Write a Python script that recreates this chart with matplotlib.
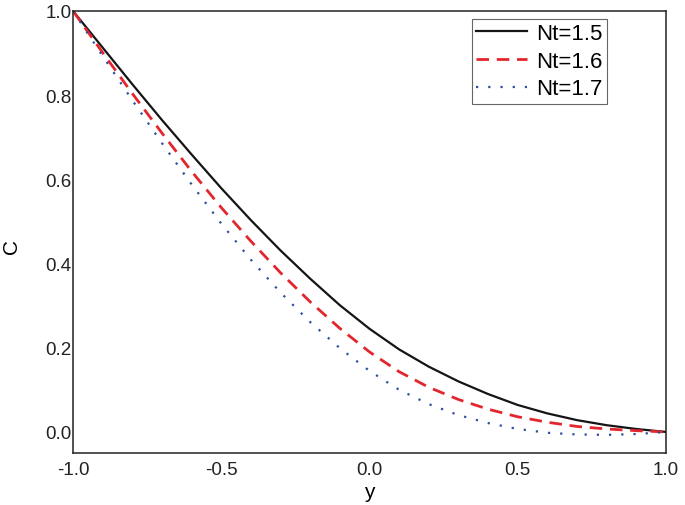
import numpy as np
import matplotlib
matplotlib.use("Agg")
import matplotlib.pyplot as plt

plt.rcParams['font.family'] = ['Liberation Sans', 'DejaVu Sans']

y_vals = [-1.0, -0.9, -0.8, -0.7, -0.6, -0.5, -0.4, -0.3, -0.2, -0.1, 0.0,
          0.1, 0.2, 0.3, 0.4, 0.5, 0.6, 0.7, 0.8, 0.9, 1.0]

c_nt15 = [1.0, 0.913, 0.826, 0.741, 0.659, 0.579, 0.503, 0.431, 0.364, 0.301, 0.245,
          0.196, 0.155, 0.120, 0.090, 0.064, 0.044, 0.028, 0.016, 0.007, 0.0]
c_nt16 = [1.0, 0.901, 0.804, 0.710, 0.619, 0.533, 0.453, 0.378, 0.309, 0.246, 0.190,
          0.143, 0.106, 0.077, 0.054, 0.036, 0.023, 0.013, 0.007, 0.003, 0.0]
c_nt17 = [1.0, 0.893, 0.788, 0.686, 0.588, 0.495, 0.409, 0.331, 0.261, 0.199, 0.145,
          0.100, 0.066, 0.040, 0.021, 0.007, -0.002, -0.006, -0.007, -0.005, 0.0]

labels = ['Nt=1.5', 'Nt=1.6', 'Nt=1.7']

fig = plt.figure(figsize=(6.85, 5.06), dpi=100)
ax = fig.add_axes([0.1066, 0.1028, 0.8657, 0.8735])

ax.plot(y_vals, c_nt15, color='#151515', lw=1.6, label=labels[0])
ax.plot(y_vals, c_nt16, color='#e3262d', lw=2.0, linestyle=(0, (4.5, 2.8)), label=labels[1])
ax.plot(y_vals, c_nt17, color='#2f4f9e', lw=1.6, linestyle=(0, (1, 4.5)), label=labels[2])

ax.set_xlim(-1.0, 1.0)
ax.set_ylim(-0.05, 1.0)
ax.set_xticks([-1.0, -0.5, 0.0, 0.5, 1.0])
ax.set_yticks([0.0, 0.2, 0.4, 0.6, 0.8, 1.0])
ax.xaxis.set_major_formatter(matplotlib.ticker.FormatStrFormatter('%.1f'))
ax.yaxis.set_major_formatter(matplotlib.ticker.FormatStrFormatter('%.1f'))
ax.tick_params(axis='both', length=0, labelsize=13.5, colors='#222222')
ax.tick_params(axis='y', pad=1)
ax.tick_params(axis='x', pad=6)
for s in ax.spines.values():
    s.set_linewidth(1.1)
    s.set_color('#222222')

ax.set_xlabel('y', fontsize=15, labelpad=3)
ax.set_ylabel('C', fontsize=15)
ax.yaxis.set_label_coords(-0.088, 0.47)

leg = ax.legend(loc='upper right', bbox_to_anchor=(0.9005, 0.983), fontsize=16,
                fancybox=False, framealpha=1, edgecolor='#666666',
                handlelength=2.3, borderpad=0.2, labelspacing=0.3, handletextpad=0.4,
                borderaxespad=0)
leg.get_frame().set_linewidth(0.8)

plt.savefig('out.png', dpi=100)
